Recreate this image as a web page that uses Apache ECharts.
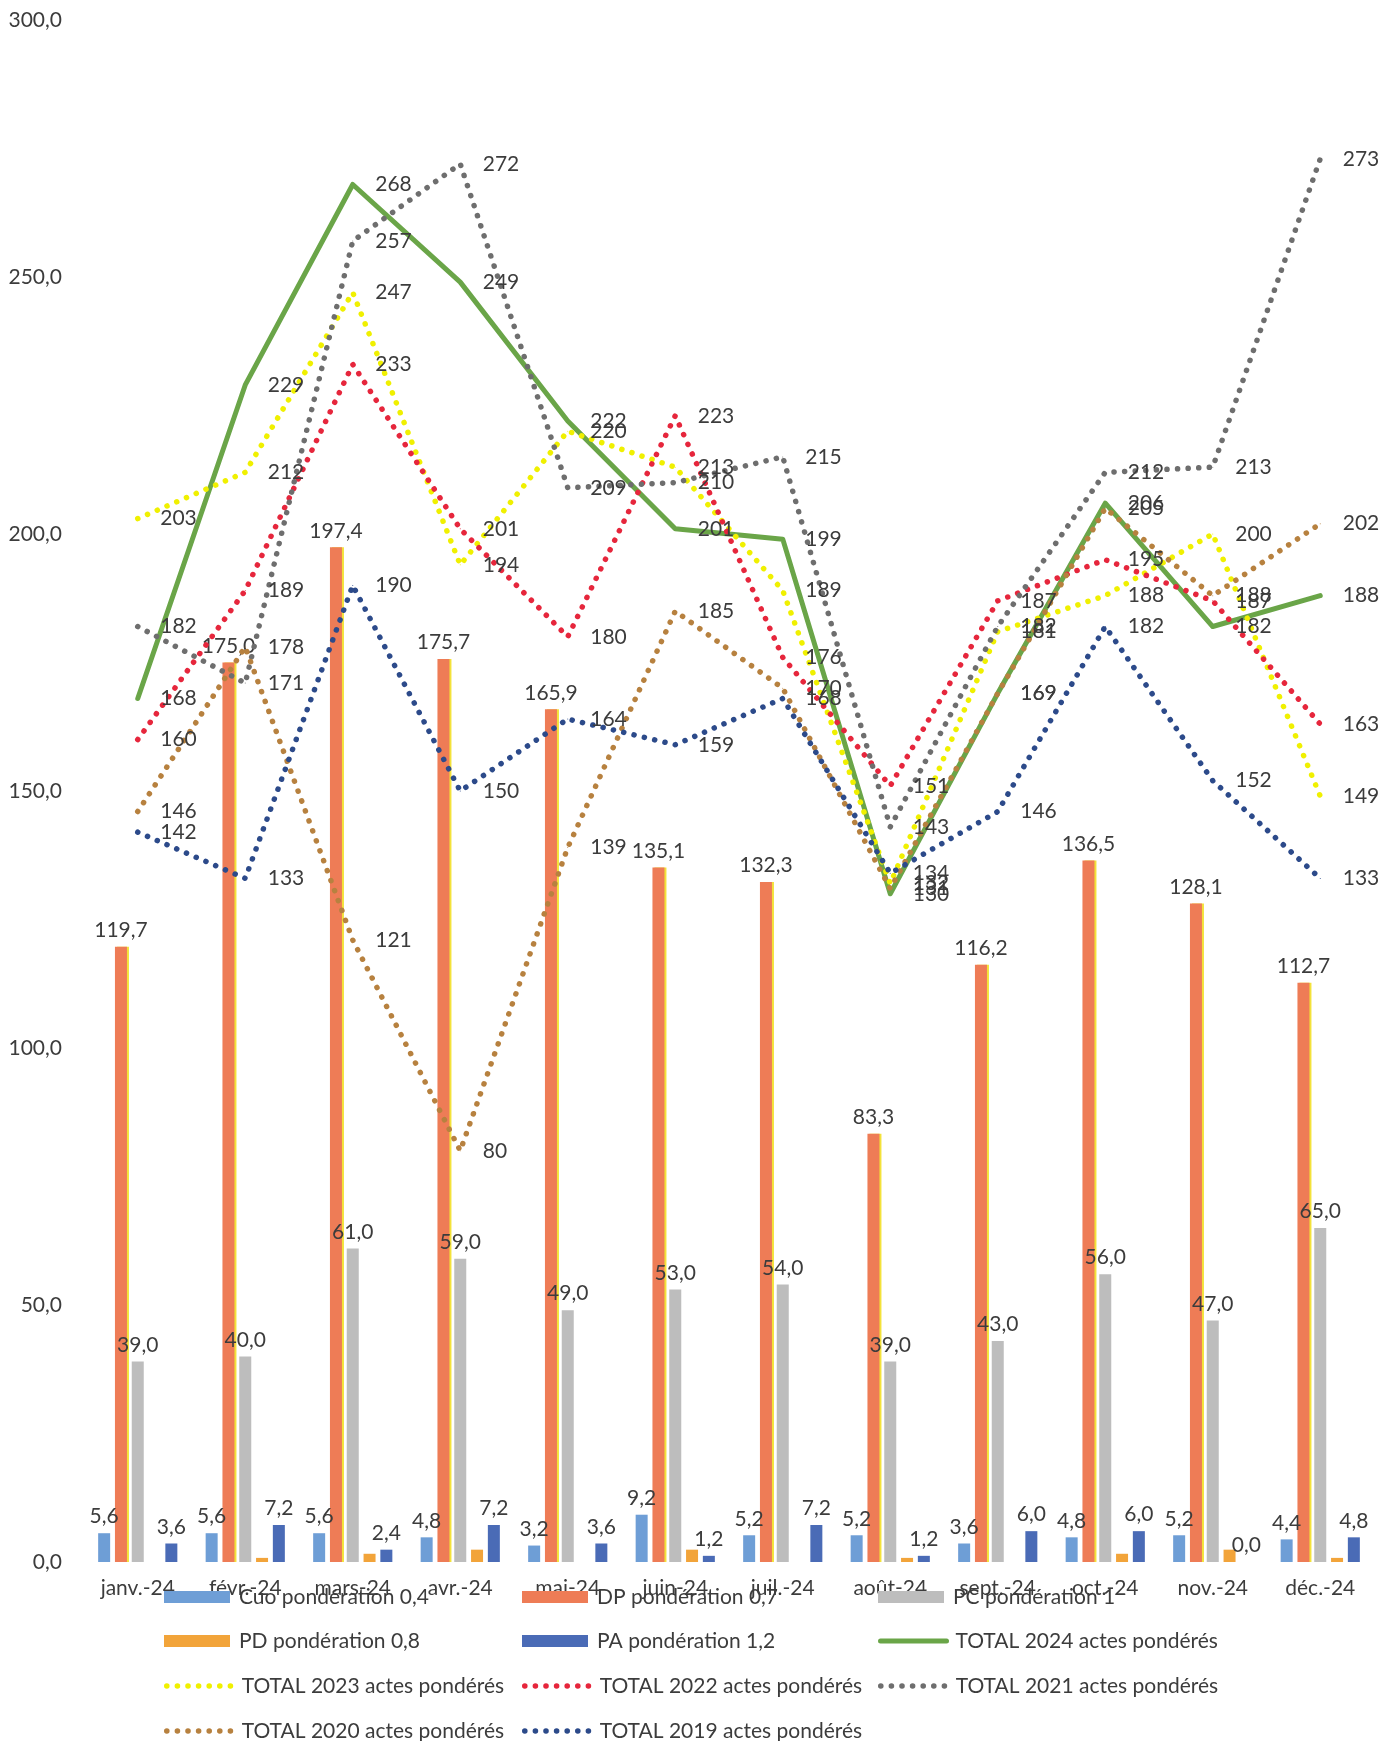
<!DOCTYPE html>
<html>
<head>
<meta charset="utf-8">
<script src="https://cdn.jsdelivr.net/npm/echarts@6/dist/echarts.min.js"></script>
<style>
html,body{margin:0;padding:0;background:#fff;}
#chart{width:1382px;height:1741px;}
</style>
</head>
<body>
<div id="chart"></div>
<script>
const categories = ['janv.-24','févr.-24','mars-24','avr.-24','mai-24','juin-24','juil.-24','août-24','sept.-24','oct.-24','nov.-24','déc.-24'];
const cuo = [5.6,5.6,5.6,4.8,3.2,9.2,5.2,5.2,3.6,4.8,5.2,4.4];
const dp = [119.7,175.0,197.4,175.7,165.9,135.1,132.3,83.3,116.2,136.5,128.1,112.7];
const pc = [39,40,61,59,49,53,54,39,43,56,47,65];
const pd = [0,0.8,1.6,2.4,0,2.4,0,0.8,0,1.6,2.4,0.8];
const pa = [3.6,7.2,2.4,7.2,3.6,1.2,7.2,1.2,6.0,6.0,0.0,4.8];
const t2024 = [168,229,268,249,222,201,199,130,169,206,182,188];
const t2023 = [203,212,247,194,220,213,189,132,181,188,200,149];
const t2022 = [160,189,233,201,180,223,176,151,187,195,187,163];
const t2021 = [182,171,257,272,209,210,215,143,182,212,213,273];
const t2020 = [146,178,121,80,139,185,170,131,169,205,188,202];
const t2019 = [142,133,190,150,164,159,168,134,146,182,152,133];
const yMin = 0, yMax = 300, yStep = 50;

const FONT = 'Lato, "Noto Sans", sans-serif';
const TXT = '#3c3c3c';
const fmt1 = v => Number(v).toFixed(1).replace('.', ',');

const barDefs = [
  ['Cuo pondération 0,4', cuo, '#6E9ED6', true],
  ['DP pondération 0,7', dp, '#EE7C56', true],
  ['PC pondération 1', pc, '#BDBDBD', true],
  ['PD pondération 0,8', pd, '#F2A43A', false],
  ['PA pondération 1,2', pa, '#4A6BB6', true]
];
const lineDefs = [
  ['TOTAL 2024 actes pondérés', t2024, '#6AA548', 'solid'],
  ['TOTAL 2023 actes pondérés', t2023, '#F0F000', 'dot'],
  ['TOTAL 2022 actes pondérés', t2022, '#E6263C', 'dot'],
  ['TOTAL 2021 actes pondérés', t2021, '#6E6E6E', 'dot'],
  ['TOTAL 2020 actes pondérés', t2020, '#B7813F', 'dot'],
  ['TOTAL 2019 actes pondérés', t2019, '#2C4A8A', 'dot']
];

const solidStyle = c => ({ color: c, width: 5, cap: 'round', join: 'round' });
const dotStyle = c => ({ color: c, width: 5.5, type: [0.1, 10.5], cap: 'round' });

const series = [];
barDefs.forEach(([name, data, color, showLabel], i) => {
  const s = {
    type: 'bar', name, data,
    barWidth: 12, barGap: '40%',
    itemStyle: { color },
    label: { show: showLabel, position: 'top', distance: 6, formatter: p => fmt1(p.value),
             fontSize: 21, fontFamily: FONT, color: TXT },
    z: 2
  };
  if (i === 1) {
    s.itemStyle = { color, shadowColor: '#F3E23A', shadowOffsetX: 2, shadowBlur: 0 };
  }
  series.push(s);
});
lineDefs.forEach(([name, data, color, kind]) => {
  series.push({
    type: 'line', name, data,
    symbol: 'circle', symbolSize: 1,
    itemStyle: { color },
    lineStyle: kind === 'solid' ? solidStyle(color) : dotStyle(color),
    label: { show: true, position: 'right', distance: 22, fontSize: 21, fontFamily: FONT, color: TXT },
    z: 3
  });
});

// legend grid: [name, column, row]
const legendCells = [
  ['Cuo pondération 0,4', 0, 0], ['DP pondération 0,7', 1, 0], ['PC pondération 1', 2, 0],
  ['PD pondération 0,8', 0, 1], ['PA pondération 1,2', 1, 1], ['TOTAL 2024 actes pondérés', 2, 1],
  ['TOTAL 2023 actes pondérés', 0, 2], ['TOTAL 2022 actes pondérés', 1, 2], ['TOTAL 2021 actes pondérés', 2, 2],
  ['TOTAL 2020 actes pondérés', 0, 3], ['TOTAL 2019 actes pondérés', 1, 3]
];
const colX = [164, 522, 878];
const rowY = [1597, 1641, 1686, 1731];
const barNames = barDefs.map(d => d[0]);
const legends = legendCells.map(([name, c, r]) => {
  const isBar = barNames.includes(name);
  let item;
  if (isBar) {
    item = { name, icon: 'rect' };
  } else {
    const def = lineDefs.find(d => d[0] === name);
    const ls = def[3] === 'solid' ? solidStyle(def[2]) : dotStyle(def[2]);
    item = { name, itemStyle: { opacity: 0 }, lineStyle: ls };
  }
  return {
    left: colX[c], top: rowY[r] - 12,
    itemWidth: 66, itemHeight: 12, padding: 0,
    selectedMode: false,
    textStyle: { fontSize: 21, fontFamily: FONT, color: TXT, lineHeight: 24, padding: [0, 0, 0, 4] },
    data: [item]
  };
});

const chart = echarts.init(document.getElementById('chart'), null, { renderer: 'canvas' });
chart.setOption({
  animation: false,
  backgroundColor: '#fff',
  legend: legends,
  grid: { left: 84, right: 8, top: 20, bottom: 179, containLabel: false },
  xAxis: {
    type: 'category', data: categories,
    axisLine: { show: false }, axisTick: { show: false },
    axisLabel: { fontSize: 21, fontFamily: FONT, color: TXT, margin: 16, interval: 0 }
  },
  yAxis: {
    type: 'value', min: yMin, max: yMax, interval: yStep,
    splitLine: { show: false }, axisLine: { show: false }, axisTick: { show: false },
    axisLabel: { fontSize: 21, fontFamily: FONT, color: TXT, margin: 22, formatter: v => fmt1(v) }
  },
  series
});
</script>
</body>
</html>
